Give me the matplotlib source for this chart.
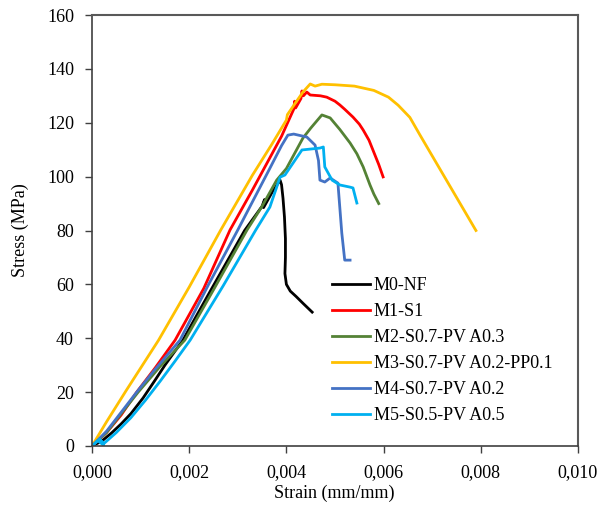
import matplotlib.pyplot as plt
from matplotlib.ticker import FixedLocator

plt.rcParams['font.family'] = ['Liberation Serif', 'DejaVu Serif']

# stress-strain data (strain mm/mm, stress MPa)
m0_strain = [0, 0.0002, 0.0004, 0.0006, 0.0008, 0.00105, 0.0013, 0.0015, 0.00187, 0.00245, 0.00314,
             0.0035, 0.00355, 0.00353, 0.0037, 0.00387, 0.0039, 0.00393, 0.00396, 0.00398, 0.00398,
             0.00397, 0.004, 0.00408, 0.0042, 0.00434, 0.00453]
m0_stress = [0, 1.8, 4.8, 8.2, 12, 17.8, 24.5, 30, 39.3, 58, 80,
             89, 91.5, 88.5, 94, 98.7, 97, 92, 85, 77, 70,
             64, 60, 57.5, 55.5, 53, 49.7]

m1_strain = [0, 0.0003, 0.0006, 0.00092, 0.0013, 0.00171, 0.0023, 0.00284, 0.0033, 0.0036, 0.0039,
             0.00415, 0.00417, 0.00419, 0.0043, 0.00432, 0.00435, 0.00442, 0.00449, 0.0047, 0.00483,
             0.005, 0.0051, 0.0052, 0.00537, 0.0055, 0.00558, 0.0057, 0.00578, 0.0059, 0.00599]
m1_stress = [0, 5, 11.5, 20, 29, 39.3, 58.5, 80.2, 95, 105, 115,
             125, 128, 125.5, 129, 131.8, 130, 131.4, 130.3, 130, 129.5,
             128, 126.6, 125, 122.1, 119.5, 117.3, 113.5, 109.9, 104.5, 99.9]

m2_strain = [0, 0.0003, 0.0006, 0.00095, 0.0014, 0.00191, 0.0025, 0.00319, 0.0035, 0.0038, 0.004,
             0.00434, 0.0045, 0.00473, 0.0049, 0.0051, 0.00531, 0.00545, 0.00558, 0.00572, 0.0058, 0.0059]
m2_stress = [0, 5, 12, 20, 29.5, 39.3, 58, 80.2, 89, 98.7, 103,
             114.3, 118, 122.9, 121.8, 117.5, 112.5, 108.5, 103.6, 96.9, 93.5, 90]

m3_strain = [0, 0.0003, 0.0007, 0.00137, 0.002, 0.00265, 0.0033, 0.0037, 0.004, 0.00402, 0.00434,
             0.00449, 0.00459, 0.00473, 0.005, 0.0054, 0.0058, 0.0061, 0.0063, 0.00654, 0.00675, 0.0079]
m3_stress = [0, 9, 20.5, 39.3, 59, 80.2, 100.5, 112, 121, 123, 131.4,
             134.4, 133.6, 134.3, 134.1, 133.6, 132, 129.5, 126.5, 122, 115.4, 80]

m4_strain = [0, 0.0003, 0.0006, 0.00092, 0.0013, 0.00181, 0.0024, 0.003, 0.00364, 0.0039, 0.00403,
             0.00415, 0.00442, 0.00459, 0.00466, 0.00469, 0.00479, 0.0049, 0.00506, 0.00514, 0.0052,
             0.00531]
m4_stress = [0, 5.5, 12.5, 20, 28.5, 39.3, 60, 80.2, 102.4, 111.5, 115.4,
             115.8, 114.7, 111.7, 106, 98.7, 98, 99.5, 97.6, 79, 69,
             69]

m5_strain = [0, 0.00012, 0.00024, 0.00015, 0.00025, 0.0005, 0.0008, 0.0011, 0.0014, 0.0017, 0.00202,
             0.0027, 0.00337, 0.00366, 0.00387, 0.00397, 0.00432, 0.00469, 0.00476, 0.00479, 0.00494,
             0.0051, 0.00531, 0.00537, 0.00545]
m5_stress = [0, 2, 0.3, 2.5, 1, 5, 10.5, 17, 24, 31.3, 39.3,
             59.5, 80.2, 88.7, 99.8, 100.6, 109.9, 110.6, 111, 103.6, 98.7,
             96.9, 96.1, 95.8, 90.2]

labels = ['M0-NF', 'M1-S1', 'M2-S0.7-PV A0.3', 'M3-S0.7-PV A0.2-PP0.1', 'M4-S0.7-PV A0.2', 'M5-S0.5-PV A0.5']
colors = ['black', '#FF0000', '#548235', '#FFC000', '#4472C4', '#00B0F0']

xticks = [0, 0.002, 0.004, 0.006, 0.008, 0.010]
xticklabels = ['0,000', '0,002', '0,004', '0,006', '0,008', '0,010']
yticks = [0, 20, 40, 60, 80, 100, 120, 140, 160]

fig = plt.figure(figsize=(5.98, 5.05), dpi=100)
ax = fig.add_axes([92/598, 1-446/505, 486/598, 431/505])

series = [(m0_strain, m0_stress), (m1_strain, m1_stress), (m2_strain, m2_stress),
          (m3_strain, m3_stress), (m4_strain, m4_stress), (m5_strain, m5_stress)]
for (x, y), lab, c in zip(series, labels, colors):
    ax.plot(x, y, color=c, linewidth=2, label=lab, solid_joinstyle='round')

ax.set_xlim(0, 0.010)
ax.set_ylim(0, 160)
ax.xaxis.set_major_locator(FixedLocator(xticks))
ax.set_xticklabels(xticklabels)
ax.yaxis.set_major_locator(FixedLocator(yticks))
ax.tick_params(direction='out', length=5, width=1, labelsize=13, pad=8, color='#404040')

for s in ['left', 'bottom']:
    ax.spines[s].set_color('#404040')
    ax.spines[s].set_linewidth(1.2)
for s in ['top', 'right']:
    ax.spines[s].set_color('#595959')
    ax.spines[s].set_linewidth(1.5)

ax.set_xlabel('Strain (mm/mm)', fontsize=13)
ax.set_ylabel('Stress (MPa)', fontsize=13)
ax.xaxis.set_label_coords(0.498, -0.09)
ax.yaxis.set_label_coords(-0.13, 0.50)

ax.legend(loc='upper left', bbox_to_anchor=(332/598, 1-277/505), bbox_transform=fig.transFigure,
          frameon=False, fontsize=13, handlelength=2.1, handletextpad=0.2, labelspacing=0.5,
          borderpad=0, borderaxespad=0)

plt.savefig('out.png', dpi=100)
